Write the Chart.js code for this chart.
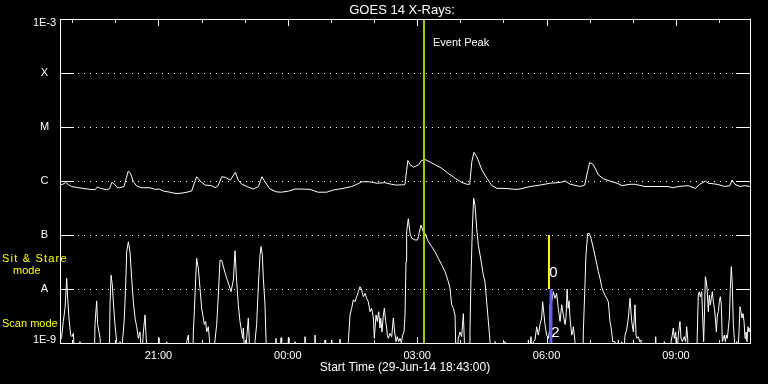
<!DOCTYPE html>
<html><head><meta charset="utf-8">
<script src="https://cdn.jsdelivr.net/npm/chart.js@4"></script>
<style>html,body{margin:0;padding:0;background:#000;overflow:hidden}canvas{display:block}</style>
</head><body>
<canvas id="c" width="768" height="384"></canvas>
<script>
// ---- texts ----
const chartTitle = 'GOES 14 X-Rays:';
const xAxisTitle = 'Start Time (29-Jun-14 18:43:00)';
const eventLabel = 'Event Peak';
// ---- x axis: minutes after 29-Jun-14 18:43:00 ----
const timeRange = [0, 960];
const timeTickMinutes = [137, 317, 497, 677, 857];
const timeTickLabels = ['21:00', '00:00', '03:00', '06:00', '09:00'];
const hourTickMinutes = [17, 77, 137, 197, 257, 317, 377, 437, 497, 557, 617, 677, 737, 797, 857, 917];
// ---- y axis: flux, W/m^2 ----
const fluxLevels = [1e-9, 1e-8, 1e-7, 1e-6, 1e-5, 1e-4, 1e-3];
const fluxLabels = ['1E-9', 'A', 'B', 'C', 'M', 'X', '1E-3'];
// ---- long channel (1-8 A) ----
const longTimes = [
 0,4,8,12,16,23,32,42,49,52,56,65,69,72,75,80,83,89,92,95,98,102,107,114,125,132,138,144,153,160,
 167,174,183,187,190,195,202,211,216,220,225,230,237,244,248,253,260,269,276,281,285,292,301,308,318,
 327,334,348,359,371,380,394,406,413,420,429,441,452,461,468,478,
 480,482,484,487,492,499,503,508,512,522,531,540,550,559,566,570,573,576,580,587,594,601,608,619,633,
 640,654,668,682,696,703,710,724,730,734,737,742,749,756,765,775,782,793,
 800,814,828,846,853,860,874,884,890,898,902,914,925,932,935,939,946,953,960
];
const longFlux = [
 8.5e-7,8.7e-7,9.4e-7,8.5e-7,7.9e-7,7.6e-7,7.3e-7,7.0e-7,6.9e-7,7.8e-7,7.3e-7,6.9e-7,7.2e-7,9.4e-7,9.0e-7,7.5e-7,7.5e-7,7.9e-7,1.1e-6,1.53e-6,1.4e-6,9.7e-7,8.0e-7,7.5e-7,7.5e-7,7.0e-7,7.1e-7,6.5e-7,6.2e-7,5.9e-7,
 5.9e-7,6.1e-7,6.5e-7,9.1e-7,1.2e-6,1.0e-6,8.4e-7,8.2e-7,7.5e-7,8.2e-7,1.2e-6,1.17e-6,1.04e-6,1.45e-6,1.04e-6,8.7e-7,7.9e-7,7.1e-7,7.9e-7,1.2e-6,9.7e-7,7.1e-7,6.3e-7,6.2e-7,6.5e-7,
 7.1e-7,7.1e-7,7.0e-7,6.2e-7,6.2e-7,6.8e-7,7.3e-7,7.9e-7,8.7e-7,9.7e-7,9.7e-7,9.1e-7,9.3e-7,8.7e-7,8.4e-7,8.5e-7,
 8.7e-7,1.5e-6,2.4e-6,2.0e-6,1.8e-6,2.0e-6,2.4e-6,2.5e-6,2.35e-6,2.0e-6,1.72e-6,1.39e-6,1.12e-6,9.4e-7,8.7e-7,8.7e-7,2.3e-6,3.4e-6,2.8e-6,1.6e-6,1.12e-6,8.2e-7,7.3e-7,7.3e-7,7.0e-7,
 7.1e-7,7.9e-7,8.4e-7,9.1e-7,9.4e-7,1.0e-6,8.7e-7,7.9e-7,8.4e-7,1.5e-6,2.2e-6,2.0e-6,1.3e-6,1.1e-6,1.0e-6,9.1e-7,8.2e-7,8.7e-7,
 8.7e-7,7.9e-7,7.9e-7,7.9e-7,7.5e-7,7.9e-7,8.2e-7,7.3e-7,8.7e-7,1.0e-6,9.1e-7,8.7e-7,7.9e-7,8.2e-7,1.04e-6,8.7e-7,7.9e-7,8.2e-7,7.9e-7
];
// ---- short channel (0.5-4 A); 5e-10 = below the plot floor ----
const shortTimes = [
 0,2.3,4.6,7.0,9.3,10.7,12.5,14.8,16.7,18.6,
 20.4,27.3,27.8,28.8,47.8,48.7,51.0,52.4,54.3,55.7,58.0,
 68.6,69.6,71.0,72.8,74.2,76.5,78.8,81.2,83.5,85.8,
 87.2,88.1,89.5,91.4,92.8,95.1,97.4,99.7,102.0,104.4,
 106.7,109.0,111.3,113.6,116.0,118.3,119.7,121.5,136.8,137.7,
 139.1,147.9,148.4,149.3,175.7,
 176.2,178.6,179.9,185.0,185.5,186.9,188.8,190.1,192.5,194.8,
 197.1,199.4,200.8,202.7,204.1,206.4,207.8,209.6,213.3,215.7,
 218.0,220.3,222.6,224.9,228.6,231.9,235.1,237.9,241.2,243.5,
 245.8,248.1,250.4,252.8,254.2,255.1,256.0,257.4,259.7,262.0,
 263.4,265.3,270.8,271.3,273.6,276.0,278.3,279.7,281.5,282.9,
 285.2,286.6,288.0,300.0,300.5,301.9,307.0,307.5,308.4,317.2,
 317.7,318.6,326.5,
 327.0,329.3,340.4,340.9,342.3,354.3,354.8,356.2,368.2,368.7,
 369.6,377.5,378.0,380.3,389.1,389.6,391.0,400.7,401.2,403.5,
 405.8,408.1,410.4,412.8,415.1,417.4,419.7,422.0,424.4,426.7,
 429.0,431.3,433.6,436.0,437.3,439.7,441.5,443.4,445.2,446.2,
 448.0,449.9,451.3,453.1,454.5,455.4,456.8,459.1,461.5,463.8,
 465.6,467.5,469.3,471.2,473.1,474.9,476.8,478.6,480.0,
 481.4,482.3,484.6,487.0,489.3,493.9,497.6,499.5,502.3,505.5,
 507.8,512.5,517.1,521.7,526.4,531.0,535.7,540.3,542.6,544.9,
 547.3,549.6,551.0,554.2,556.5,558.8,561.2,562.6,564.4,569.9,
 570.4,571.8,573.7,575.5,577.4,579.7,582.0,584.4,586.7,589.0,
 591.3,593.6,596.0,598.3,599.7,604.7,605.2,606.6,618.6,619.1,
 620.5,651.1,
 651.6,653.0,655.3,657.2,658.6,660.9,663.2,665.5,667.8,670.1,
 671.5,673.4,674.8,677.1,679.4,680.8,681.7,684.1,686.4,688.7,
 691.0,693.3,695.7,698.0,700.3,702.6,704.0,705.6,707.0,708.3,
 709.6,711.9,713.3,714.2,716.5,718.8,727.6,728.1,730.4,731.8,
 734.2,736.5,738.8,742.0,745.7,749.0,751.3,753.6,756.0,758.3,
 760.6,762.9,765.2,766.6,767.5,768.9,772.2,774.5,776.8,779.1,
 781.5,783.8,786.1,788.4,790.7,793.1,795.4,797.7,800.0,
 801.4,802.8,804.6,806.5,808.3,810.2,827.8,828.8,830.1,840.3,
 840.8,842.7,849.6,850.1,851.9,853.3,854.7,856.6,858.0,860.3,
 862.6,864.0,865.9,868.6,870.5,871.9,873.3,874.2,885.8,887.2,
 888.1,889.5,890.9,892.8,894.2,895.5,896.5,897.9,899.3,900.6,
 902.0,903.4,904.8,906.2,907.6,909.0,910.4,911.8,913.2,914.6,
 916.0,917.3,918.7,920.1,921.5,922.9,924.3,925.7,927.1,928.5,
 929.9,931.3,932.6,934.0,935.4,936.8,938.2,939.6,941.5,942.8,
 944.7,946.1,947.5,948.9,950.3,951.7,953.1,954.4,955.8,957.2,
 958.6,960.0
];
const shortFlux = [
 1.06e-9,1.31e-9,2.5e-9,4.4e-9,1.58e-8,6.7e-9,2.9e-9,1.4e-9,1.31e-9,1.51e-9,
 5e-10,5e-10,1.06e-9,5e-10,5e-10,2.2e-9,6.0e-9,2.2e-9,1.6e-9,1.22e-9,5e-10,
 5e-10,5.1e-9,1.8e-8,1.19e-8,5.8e-9,2.2e-9,1.06e-9,5e-10,1.06e-9,5e-10,
 1.22e-9,1.6e-9,2.9e-9,1.19e-8,4.9e-8,7.5e-8,4.9e-8,1.58e-8,5.8e-9,2.9e-9,
 2.0e-9,1.22e-9,1.6e-9,5e-10,1.6e-9,3.3e-9,1.4e-9,5e-10,5e-10,1.25e-9,
 5e-10,5e-10,1.06e-9,5e-10,5e-10,
 1.06e-9,1.4e-9,5e-10,5e-10,1.6e-9,3.8e-9,1.58e-8,3.7e-8,2.4e-8,1.03e-8,
 4.4e-9,2.9e-9,2.2e-9,2.5e-9,1.6e-9,2.0e-9,1.22e-9,5e-10,5e-10,1.14e-9,
 2.2e-9,7.7e-9,3.4e-8,3.4e-8,2.25e-8,1.58e-8,1.19e-8,8.9e-9,1.47e-8,5.1e-8,
 1.37e-8,5.1e-9,2.5e-9,1.6e-9,1.22e-9,1.9e-9,1.06e-9,5e-10,1.22e-9,2.9e-9,
 1.06e-9,5e-10,5e-10,1.06e-9,2.2e-9,1.19e-8,4.3e-8,6.1e-8,4.3e-8,1.58e-8,
 5.1e-9,1.22e-9,5e-10,5e-10,1.22e-9,5e-10,5e-10,1.25e-9,5e-10,5e-10,
 1.22e-9,5e-10,5e-10,
 1.06e-9,5e-10,5e-10,1.31e-9,5e-10,5e-10,1.4e-9,5e-10,5e-10,1.14e-9,
 5e-10,5e-10,1.14e-9,5e-10,5e-10,1.18e-9,5e-10,5e-10,1.06e-9,3.3e-9,
 4.4e-9,6.3e-9,5.8e-9,7.2e-9,8.9e-9,1.1e-8,9.6e-9,7.2e-9,8.3e-9,6.7e-9,
 5.8e-9,3.8e-9,4.4e-9,2.9e-9,1.22e-9,3.3e-9,2.5e-9,3.8e-9,1.9e-9,2.9e-9,
 1.6e-9,3.3e-9,4.4e-9,2.5e-9,1.9e-9,1.4e-9,1.22e-9,1.51e-9,1.31e-9,2.9e-9,
 1.6e-9,1.06e-9,1.31e-9,1.06e-9,1.22e-9,1.0e-9,1.4e-9,1.6e-9,3.3e-9,
 3.2e-8,1.15e-7,2.0e-7,1.07e-7,8.7e-8,8.1e-8,8.1e-8,1.07e-7,1.53e-7,1.15e-7,
 1.07e-7,7.5e-8,6.1e-8,4.9e-8,3.7e-8,2.8e-8,2.1e-8,1.37e-8,1.03e-8,5.1e-9,
 4.4e-9,3.3e-9,5e-10,1.22e-9,1.6e-9,1.31e-9,3.5e-9,1.06e-9,5e-10,5e-10,
 1.6e-9,1.58e-8,1.33e-7,4.8e-7,3.6e-7,1.33e-7,6.5e-8,4.3e-8,2.8e-8,1.8e-8,
 1.37e-8,5.8e-9,2.5e-9,1.06e-9,5e-10,5e-10,1.06e-9,5e-10,5e-10,1.06e-9,
 5e-10,5e-10,
 1.14e-9,5e-10,1.31e-9,5e-10,1.06e-9,1.14e-9,2.0e-9,1.4e-9,2.2e-9,2.9e-9,
 5.8e-9,3.3e-9,2.2e-9,1.4e-9,1.22e-9,1.6e-9,5.1e-9,5.8e-9,8.9e-9,6.7e-9,
 8.3e-9,4.4e-9,2.5e-9,5.1e-9,3.3e-9,2.2e-9,3.0e-9,1.0e-8,4.4e-9,6.0e-9,
 2.9e-9,1.4e-9,1.6e-9,2.0e-9,1.06e-9,5e-10,5e-10,1.6e-9,1.19e-8,4.3e-8,
 1.07e-7,1.07e-7,8.7e-8,5.7e-8,3.4e-8,2.1e-8,1.58e-8,1.1e-8,8.9e-9,7.7e-9,
 6.7e-9,5.8e-9,2.5e-9,2.0e-9,1.6e-9,1.06e-9,1.06e-9,5e-10,1.14e-9,5e-10,
 1.06e-9,5e-10,1.4e-9,1.74e-9,2.9e-9,6.7e-9,2.5e-9,1.6e-9,5.1e-9,
 1.4e-9,1.22e-9,1.31e-9,1.06e-9,1.14e-9,5e-10,5e-10,1.31e-9,5e-10,5e-10,
 1.06e-9,5e-10,5e-10,1.06e-9,1.4e-9,1.9e-9,1.22e-9,1.6e-9,5e-10,1.4e-9,
 2.5e-9,1.22e-9,1.06e-9,1.31e-9,1.06e-9,2.0e-9,1.22e-9,5e-10,5e-10,2.9e-9,
 7.7e-9,8.9e-9,7.2e-9,8.9e-9,2.9e-9,1.06e-9,2.9e-9,1.69e-8,1.37e-8,8.9e-9,
 3.8e-9,7.7e-9,5.1e-9,6.7e-9,8.9e-9,5.8e-9,4.4e-9,2.9e-9,1.6e-9,3.3e-9,
 3.8e-9,5.8e-9,7.2e-9,5.1e-9,1.06e-9,1.22e-9,1.4e-9,1.06e-9,1.4e-9,1.22e-9,
 1.9e-9,2.9e-9,1.03e-8,2.6e-8,1.19e-8,2.2e-9,1.22e-9,5e-10,1.06e-9,5e-10,
 1.6e-9,4.7e-9,3.8e-9,2.9e-9,3.5e-9,2.5e-9,1.22e-9,1.6e-9,1.06e-9,2.0e-9,
 1.6e-9,1.9e-9
];
// ---- markers ----
const eventPeakTime = 506.4;
const eventPeakRange = [1e-3, 1e-9];
const sitStareTime = 680.3;
const sitStareRange = [1e-7, 1e-8];
const scanTime = 683.1;
const scanRange = [1e-8, 1e-9];

const toPts = (ts, vs) => ts.map((t, i) => ({x: t, y: vs[i]}));
const vLine = (t, r) => r.map(v => ({x: t, y: v}));

const FONT = '"Liberation Sans", Arial, sans-serif';

const goesFrame = {
  id: 'goesFrame',
  beforeDraw(chart) {
    const {ctx, width, height} = chart;
    ctx.save(); ctx.fillStyle = '#000'; ctx.fillRect(0, 0, width, height); ctx.restore();
  },
  beforeDatasetsDraw(chart) {
    const {ctx, chartArea: a, scales: {y}} = chart;
    ctx.save();
    ctx.strokeStyle = '#fff'; ctx.lineWidth = 1;
    ctx.setLineDash([1, 5]);
    fluxLevels.slice(1, -1).forEach(v => {
      const py = Math.round(y.getPixelForValue(v)) + 0.5;
      ctx.beginPath(); ctx.moveTo(a.left + 18, py); ctx.lineTo(a.right - 14, py); ctx.stroke();
    });
    ctx.restore();
  },
  afterDatasetsDraw(chart) {
    const {ctx, chartArea: a, scales: {x, y}} = chart;
    ctx.save();
    ctx.strokeStyle = '#fff'; ctx.lineWidth = 1;
    ctx.strokeRect(a.left + 0.5, a.top + 0.5, a.right - a.left, a.bottom - a.top);
    fluxLevels.slice(1, -1).forEach(v => {
      const py = Math.round(y.getPixelForValue(v)) + 0.5;
      ctx.beginPath();
      ctx.moveTo(a.left, py); ctx.lineTo(a.left + 14, py);
      ctx.moveTo(a.right - 14, py); ctx.lineTo(a.right + 1, py);
      ctx.stroke();
    });
    hourTickMinutes.forEach(t => {
      const px = Math.round(x.getPixelForValue(t)) + 0.5;
      const len = timeTickMinutes.includes(t) ? 7 : 4;
      ctx.beginPath();
      ctx.moveTo(px, a.top); ctx.lineTo(px, a.top + len);
      ctx.moveTo(px, a.bottom + 1); ctx.lineTo(px, a.bottom + 1 - len);
      ctx.stroke();
    });
    ctx.fillStyle = '#fff';
    ctx.textBaseline = 'middle';
    ctx.textAlign = 'center';
    ctx.font = '11px ' + FONT;
    fluxLevels.forEach((v, i) => {
      let py = y.getPixelForValue(v);
      if (i === fluxLevels.length - 1) py += 4;
      if (i === 0) py -= 3;
      ctx.fillText(fluxLabels[i], 44.5, py);
    });
    timeTickMinutes.forEach((t, i) => {
      ctx.fillText(timeTickLabels[i], x.getPixelForValue(t), a.bottom + 12.5);
    });
    ctx.font = '12px ' + FONT;
    ctx.fillText(xAxisTitle, (a.left + a.right) / 2, a.bottom + 25);
    ctx.font = '13px ' + FONT;
    ctx.fillText(chartTitle, 402, 10);
    ctx.font = '11px ' + FONT;
    ctx.textAlign = 'left';
    ctx.fillText(eventLabel, x.getPixelForValue(eventPeakTime) + 9, a.top + 24);
    ctx.font = '15px ' + FONT;
    ctx.textAlign = 'center';
    ctx.fillText('0', x.getPixelForValue(sitStareTime) + 4.5, y.getPixelForValue(sitStareRange[1]) - 16);
    ctx.fillText('2', x.getPixelForValue(scanTime) + 4.5, y.getPixelForValue(scanRange[1]) - 10);
    ctx.fillStyle = '#ffff00';
    ctx.font = '11px ' + FONT;
    ctx.textAlign = 'left';
    ctx.letterSpacing = '1.2px';
    ctx.fillText('Sit & Stare', 2, 258.5);
    ctx.letterSpacing = '0px';
    ctx.fillText('mode', 13, 271);
    ctx.fillText('Scan mode', 2, 323.5);
    ctx.restore();
  }
};

new Chart(document.getElementById('c'), {
  type: 'line',
  data: {
    datasets: [
      {label: 'Sit & Stare', data: vLine(sitStareTime, sitStareRange), borderColor: '#ffff00', borderWidth: 2},
      {label: 'Scan', data: vLine(scanTime, scanRange), borderColor: '#5f5fff', borderWidth: 3},
      {label: 'Event Peak', data: vLine(eventPeakTime, eventPeakRange), borderColor: '#a0d000', borderWidth: 2},
      {label: 'Long', data: toPts(longTimes, longFlux), borderColor: '#ffffff', borderWidth: 1},
      {label: 'Short', data: toPts(shortTimes, shortFlux), borderColor: '#ffffff', borderWidth: 1}
    ]
  },
  options: {
    responsive: false,
    animation: false,
    devicePixelRatio: 1,
    layout: {padding: {left: 60, right: 18, top: 19, bottom: 41}},
    datasets: {line: {clip: 0, pointRadius: 0, tension: 0, fill: false}},
    scales: {
      x: {type: 'linear', min: timeRange[0], max: timeRange[1], display: false},
      y: {type: 'logarithmic', min: fluxLevels[0], max: fluxLevels[fluxLevels.length - 1], display: false}
    },
    plugins: {legend: {display: false}, tooltip: {enabled: false}, title: {display: false}}
  },
  plugins: [goesFrame]
});
</script>
</body></html>
